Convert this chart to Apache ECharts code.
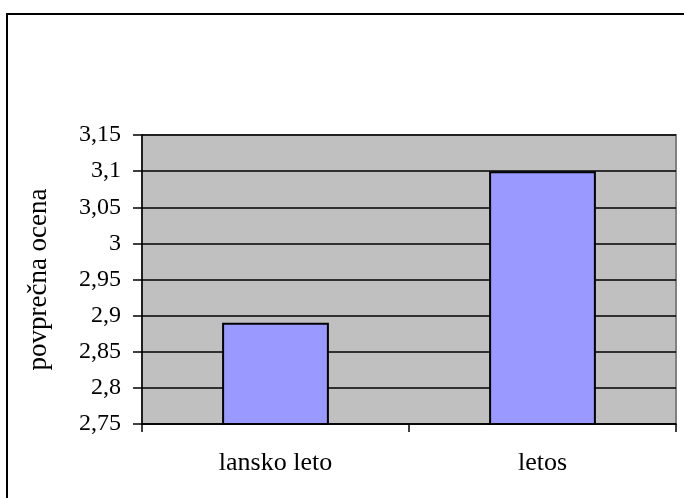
<!DOCTYPE html>
<html>
<head>
<meta charset="utf-8">
<script src="https://cdn.jsdelivr.net/npm/echarts@6/dist/echarts.min.js"></script>
<style>
html,body{margin:0;padding:0;background:#fff;}
#c{width:684px;height:498px;}
</style>
</head>
<body>
<div id="c"></div>
<script>
const categories = ['lansko leto', 'letos'];
const values = [2.89, 3.1];
const yMin = 2.75, yMax = 3.15, yStep = 0.05;
const yTitle = 'povprečna ocena';

const chart = echarts.init(document.getElementById('c'), null, {renderer: 'canvas'});
const font = '"Liberation Serif", "Times New Roman", serif';
chart.setOption({
  animation: false,
  backgroundColor: '#ffffff',
  graphic: [{
    type: 'rect', z: 100, silent: true,
    shape: {x: 7, y: 14, width: 700, height: 520},
    style: {fill: 'none', stroke: '#000', lineWidth: 2}
  }],
  grid: {
    left: 142, top: 135, right: 8, bottom: 74,
    show: true, backgroundColor: '#c0c0c0', borderColor: '#808080', borderWidth: 2
  },
  xAxis: {
    type: 'category',
    data: categories,
    axisLine: {lineStyle: {color: '#000', width: 1.5}},
    axisTick: {show: true, length: 8, lineStyle: {color: '#000', width: 1.5}},
    axisLabel: {color: '#000', fontFamily: font, fontSize: 26, margin: 26},
    splitLine: {show: false}
  },
  yAxis: {
    type: 'value',
    min: yMin, max: yMax, interval: yStep,
    name: yTitle,
    nameLocation: 'middle',
    nameGap: 90,
    nameTextStyle: {color: '#000', fontFamily: font, fontSize: 27},
    axisLine: {show: true, lineStyle: {color: '#000', width: 1.5}},
    axisTick: {show: true, length: 9, lineStyle: {color: '#000', width: 1.5}},
    axisLabel: {
      color: '#000', fontFamily: font, fontSize: 24, margin: 21,
      formatter: v => String(+(+v).toFixed(2)).replace('.', ',')
    },
    splitLine: {show: true, lineStyle: {color: '#000', width: 1.5}}
  },
  series: [{
    type: 'bar',
    data: values,
    barWidth: '40%',
    itemStyle: {color: '#9999ff', borderColor: '#000', borderWidth: 2}
  }]
});
</script>
</body>
</html>
